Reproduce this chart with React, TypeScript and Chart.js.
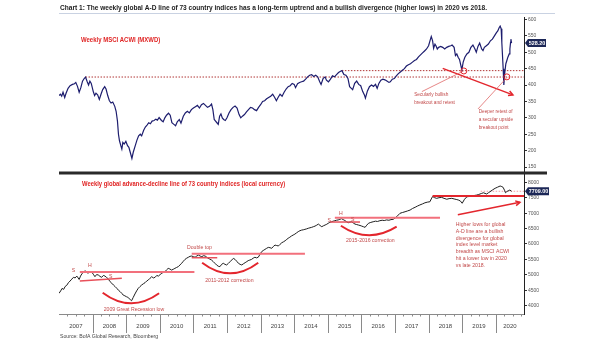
import React, { useEffect, useRef } from 'react';
import { Chart, registerables } from 'chart.js';

Chart.register(...registerables);

// ---------- data ----------
const acwiDates = [
  2007.0, 2007.04, 2007.08, 2007.12, 2007.17, 2007.21, 2007.27, 2007.33, 2007.4, 2007.46, 2007.5, 2007.55, 2007.6, 2007.65, 2007.7, 2007.75, 2007.79, 2007.84, 2007.88, 2007.92, 2007.96,
  2008.02, 2008.06, 2008.1, 2008.15, 2008.2, 2008.25, 2008.3, 2008.36, 2008.4, 2008.45, 2008.5, 2008.55, 2008.6, 2008.66, 2008.7, 2008.74, 2008.77, 2008.8, 2008.84, 2008.87, 2008.9, 2008.94, 2008.99,
  2009.04, 2009.08, 2009.12, 2009.17, 2009.21, 2009.27, 2009.32, 2009.37, 2009.42, 2009.46, 2009.52, 2009.57, 2009.62, 2009.67, 2009.72, 2009.77, 2009.83, 2009.88, 2009.93, 2009.98,
  2010.05, 2010.1, 2010.15, 2010.2, 2010.26, 2010.31, 2010.36, 2010.42, 2010.47, 2010.52, 2010.58, 2010.63, 2010.7, 2010.76, 2010.82, 2010.88, 2010.94,
  2011.0, 2011.06, 2011.12, 2011.18, 2011.24, 2011.3, 2011.36, 2011.42, 2011.48, 2011.54, 2011.58, 2011.62, 2011.66, 2011.7, 2011.74, 2011.78, 2011.82, 2011.86, 2011.9, 2011.95,
  2012.0, 2012.06, 2012.12, 2012.18, 2012.24, 2012.3, 2012.36, 2012.41, 2012.46, 2012.52, 2012.58, 2012.64, 2012.7, 2012.76, 2012.82, 2012.88, 2012.94,
  2013.0, 2013.06, 2013.12, 2013.18, 2013.24, 2013.3, 2013.36, 2013.42, 2013.47, 2013.52, 2013.58, 2013.64, 2013.7, 2013.76, 2013.82, 2013.88, 2013.94,
  2014.0, 2014.04, 2014.1, 2014.16, 2014.22, 2014.28, 2014.34, 2014.4, 2014.46, 2014.52, 2014.58, 2014.64, 2014.7, 2014.76, 2014.8, 2014.86, 2014.92, 2014.96,
  2015.02, 2015.08, 2015.14, 2015.2, 2015.26, 2015.32, 2015.38, 2015.42, 2015.48, 2015.54, 2015.6, 2015.65, 2015.7, 2015.74, 2015.8, 2015.86, 2015.92, 2015.98,
  2016.04, 2016.09, 2016.12, 2016.18, 2016.24, 2016.3, 2016.36, 2016.42, 2016.47, 2016.52, 2016.58, 2016.64, 2016.7, 2016.76, 2016.82, 2016.86, 2016.92, 2016.98,
  2017.04, 2017.1, 2017.16, 2017.22, 2017.28, 2017.34, 2017.4, 2017.46, 2017.52, 2017.58, 2017.64, 2017.7, 2017.76, 2017.82, 2017.88, 2017.94,
  2018.0, 2018.05, 2018.08, 2018.12, 2018.15, 2018.19, 2018.22, 2018.26, 2018.3, 2018.36, 2018.42, 2018.48, 2018.54, 2018.6, 2018.66, 2018.7, 2018.76, 2018.8, 2018.84, 2018.88, 2018.92, 2018.96, 2018.99,
  2019.03, 2019.08, 2019.14, 2019.2, 2019.26, 2019.32, 2019.38, 2019.42, 2019.47, 2019.52, 2019.58, 2019.62, 2019.66, 2019.72, 2019.78, 2019.84, 2019.9, 2019.96,
  2020.02, 2020.06, 2020.1, 2020.13, 2020.16, 2020.18, 2020.2, 2020.22, 2020.24, 2020.27, 2020.3, 2020.33, 2020.36, 2020.4, 2020.42, 2020.44, 2020.45, 2020.47,
];
const acwiValues = [
  368, 372, 366, 378, 362, 375, 390, 398, 402, 404, 408, 396, 378, 392, 412, 420, 424.5, 410, 400, 412, 405,
  380, 368, 375, 370, 356, 372, 386, 395, 388, 368, 352, 345, 348, 335, 320, 290, 250, 230, 215, 205, 225, 220, 228,
  215, 210, 195, 176, 195, 215, 232, 245, 250, 245, 262, 272, 278, 285, 282, 290, 292, 296, 293, 301,
  292, 288, 300, 308, 314, 308, 285, 280, 276, 288, 295, 284, 305, 315, 320, 315, 325,
  330, 334, 338, 330, 340, 344, 338, 332, 335, 342, 325, 295, 290, 285, 280, 305, 312, 300, 295, 292,
  300, 315, 325, 332, 336, 330, 310, 300, 305, 310, 318, 325, 332, 330, 325, 322, 332,
  340, 350, 352, 358, 362, 366, 372, 362, 352, 362, 372, 366, 378, 388, 395, 398, 405,
  402, 392, 404, 408, 410, 412, 418, 425, 430, 432, 426, 430, 425, 410, 402, 420, 425, 415,
  410, 418, 428, 425, 432, 438, 442, 444, 432, 430, 420, 395, 390, 386, 405, 412, 402, 398,
  380, 370, 360, 382, 395, 400, 396, 402, 390, 405, 415, 418, 416, 412, 408, 410, 418, 420,
  428, 435, 440, 445, 450, 458, 462, 465, 470, 475, 478, 486, 492, 498, 504, 510,
  520, 538, 548, 535, 512, 525, 520, 510, 515, 518, 515, 510, 515, 518, 520, 522, 515, 490, 495, 485, 478, 460, 446,
  470, 485, 495, 500, 515, 522, 510, 500, 518, 528, 510, 505, 515, 520, 525, 535, 540, 550,
  560, 565, 575, 580, 572, 530, 490, 450, 400, 440, 465, 475, 485, 495, 510, 530, 540, 528.2,
];

const adDates = [
  2007.0, 2007.05, 2007.09, 2007.14, 2007.18, 2007.23, 2007.28, 2007.33, 2007.38, 2007.43, 2007.48, 2007.53, 2007.57, 2007.6, 2007.64, 2007.68, 2007.72, 2007.77, 2007.82, 2007.87, 2007.92, 2007.97,
  2008.02, 2008.07, 2008.12, 2008.17, 2008.22, 2008.27, 2008.32, 2008.37, 2008.41, 2008.45, 2008.52, 2008.57, 2008.62, 2008.67, 2008.72, 2008.77, 2008.82, 2008.87, 2008.91, 2008.96,
  2009.01, 2009.05, 2009.08, 2009.12, 2009.16, 2009.21, 2009.26, 2009.31, 2009.36, 2009.41, 2009.46, 2009.51, 2009.56, 2009.61, 2009.66, 2009.71, 2009.76, 2009.81, 2009.86, 2009.91, 2009.96,
  2010.01, 2010.06, 2010.1, 2010.15, 2010.2, 2010.25, 2010.3, 2010.35, 2010.4, 2010.45, 2010.5, 2010.55, 2010.6, 2010.65, 2010.7, 2010.75, 2010.8, 2010.85, 2010.9, 2010.95,
  2011.0, 2011.05, 2011.1, 2011.15, 2011.2, 2011.25, 2011.3, 2011.35, 2011.4, 2011.44, 2011.49, 2011.54, 2011.59, 2011.64, 2011.69, 2011.74, 2011.79, 2011.84, 2011.89, 2011.94, 2011.99,
  2012.04, 2012.09, 2012.14, 2012.19, 2012.24, 2012.29, 2012.34, 2012.39, 2012.44, 2012.49, 2012.54, 2012.59, 2012.63, 2012.68, 2012.73, 2012.78, 2012.83, 2012.88, 2012.93, 2012.98,
  2013.03, 2013.08, 2013.13, 2013.18, 2013.23, 2013.28, 2013.33, 2013.38, 2013.43, 2013.48, 2013.53, 2013.58, 2013.63, 2013.68, 2013.73, 2013.78, 2013.82, 2013.87, 2013.92, 2013.97,
  2014.02, 2014.07, 2014.12, 2014.17, 2014.22, 2014.27, 2014.32, 2014.37, 2014.42, 2014.47, 2014.52, 2014.57, 2014.62, 2014.67, 2014.72, 2014.77, 2014.82, 2014.87, 2014.92, 2014.97,
  2015.01, 2015.06, 2015.11, 2015.16, 2015.21, 2015.26, 2015.31, 2015.36, 2015.41, 2015.46, 2015.51, 2015.56, 2015.61, 2015.66, 2015.71, 2015.76, 2015.81, 2015.86, 2015.91, 2015.96,
  2016.01, 2016.06, 2016.11, 2016.16, 2016.21, 2016.28, 2016.35, 2016.42, 2016.48, 2016.55, 2016.62, 2016.68, 2016.75, 2016.82, 2016.88, 2016.95,
  2017.0, 2017.05, 2017.1, 2017.15, 2017.22, 2017.3, 2017.37, 2017.45, 2017.52, 2017.6, 2017.67, 2017.74, 2017.82, 2017.89, 2017.96,
  2018.04, 2018.08, 2018.12, 2018.18, 2018.24, 2018.31, 2018.39, 2018.46, 2018.54, 2018.61, 2018.69, 2018.76, 2018.84, 2018.9, 2018.95,
  2019.0, 2019.07, 2019.14, 2019.21, 2019.28, 2019.35, 2019.43, 2019.48, 2019.53, 2019.58, 2019.63, 2019.68, 2019.73, 2019.78, 2019.83, 2019.9, 2019.98,
  2020.05, 2020.13, 2020.18, 2020.22, 2020.26, 2020.29, 2020.33, 2020.37, 2020.42, 2020.47,
];
const adValues = [
  4400, 4480, 4560, 4530, 4620, 4660, 4745, 4800, 4860, 4920, 4900, 4960, 4900, 4850, 4960, 5030, 5080, 5135, 5090, 5050, 5110, 5100,
  5020, 4940, 5010, 4995, 4950, 4920, 4980, 4960, 4920, 4890, 4780, 4730, 4670, 4620, 4565, 4500, 4455, 4400, 4345, 4320,
  4290, 4270, 4240, 4200, 4160, 4270, 4380, 4480, 4565, 4620, 4670, 4710, 4745, 4800, 4835, 4890, 4940, 4900, 4920, 4980, 4960,
  5010, 5050, 5080, 5100, 5160, 5210, 5190, 5155, 5180, 5210, 5240, 5265, 5320, 5375, 5440, 5500, 5540, 5570, 5600, 5610,
  5590, 5570, 5610, 5640, 5610, 5590, 5620, 5610, 5570, 5535, 5510, 5480, 5430, 5375, 5320, 5280, 5265, 5340, 5375, 5340, 5320,
  5370, 5425, 5480, 5535, 5500, 5440, 5375, 5340, 5320, 5360, 5395, 5430, 5460, 5480, 5500, 5540, 5570, 5550, 5570, 5660,
  5750, 5790, 5825, 5860, 5890, 5880, 5860, 5920, 5965, 5950, 5935, 5990, 6040, 6070, 6105, 6150, 6185, 6220, 6260, 6290,
  6320, 6360, 6400, 6430, 6450, 6460, 6475, 6490, 6510, 6525, 6540, 6560, 6580, 6610, 6645, 6600, 6560, 6590, 6615, 6640,
  6670, 6700, 6720, 6740, 6755, 6770, 6780, 6800, 6820, 6790, 6760, 6720, 6690, 6710, 6720, 6680, 6645, 6630, 6615, 6600,
  6580, 6560, 6540, 6610, 6670, 6700, 6720, 6740, 6730, 6755, 6770, 6760, 6780, 6770, 6790, 6800,
  6840, 6885, 6940, 6995, 7020, 7045, 7070, 7100, 7150, 7190, 7230, 7265, 7300, 7335, 7355,
  7370, 7460, 7540, 7500, 7480, 7500, 7510, 7480, 7450, 7470, 7480, 7460, 7440, 7420, 7390,
  7320, 7450, 7530, 7540, 7555, 7570, 7585, 7600, 7620, 7640, 7660, 7640, 7620, 7660, 7695, 7750, 7805,
  7840, 7880, 7860, 7835, 7740, 7660, 7700, 7725, 7750, 7709,
];

const yearLabels = ['2007', '2008', '2009', '2010', '2011', '2012', '2013', '2014', '2015', '2016', '2017', '2018', '2019', '2020'];
const acwiTicks = [150, 200, 250, 300, 350, 400, 450, 500, 550, 600];
const adTicks = [4000, 4500, 5000, 5500, 6000, 6500, 7000, 7500, 8000];
const acwiLast = '528.20';
const adLast = '7709.00';

const TITLE = 'Chart 1: The weekly global A-D line of 73 country indices has a long-term uptrend and a bullish divergence (higher lows) in 2020 vs 2018.';
const SOURCE = 'Source: BofA Global Research, Bloomberg';

const FONT = "'Liberation Sans Narrow','Liberation Sans',Arial,sans-serif";
const RED = '#e3262d';
const PINK = '#f2707c';
const NOTE = '#c24a4a';
const X_MIN = 2007;
const X_MAX = 2020.84;
const SQUEEZE = 0.86;

function txt(ctx: CanvasRenderingContext2D, s: string, x: number, y: number, align: CanvasTextAlign = 'left', sx: number = SQUEEZE) {
  ctx.save();
  ctx.translate(x, y);
  ctx.scale(sx, 1);
  ctx.textAlign = align;
  ctx.textBaseline = 'middle';
  ctx.fillText(s, 0, 0);
  ctx.restore();
}

function arrow(ctx: CanvasRenderingContext2D, x1: number, y1: number, x2: number, y2: number, color: string, w: number) {
  ctx.strokeStyle = color;
  ctx.lineWidth = w;
  ctx.beginPath();
  ctx.moveTo(x1, y1);
  ctx.lineTo(x2, y2);
  ctx.stroke();
  const a = Math.atan2(y2 - y1, x2 - x1);
  const L = 5;
  ctx.beginPath();
  ctx.moveTo(x2 - L * Math.cos(a - 0.5), y2 - L * Math.sin(a - 0.5));
  ctx.lineTo(x2, y2);
  ctx.lineTo(x2 - L * Math.cos(a + 0.5), y2 - L * Math.sin(a + 0.5));
  ctx.stroke();
}

function seg(ctx: CanvasRenderingContext2D, x1: number, y1: number, x2: number, y2: number, color: string, w: number) {
  ctx.strokeStyle = color;
  ctx.lineWidth = w;
  ctx.beginPath();
  ctx.moveTo(x1, y1);
  ctx.lineTo(x2, y2);
  ctx.stroke();
}

function tag(ctx: CanvasRenderingContext2D, x0: number, yc: number, text: string, w: number) {
  ctx.fillStyle = '#1c2757';
  ctx.beginPath();
  ctx.moveTo(x0, yc);
  ctx.lineTo(x0 + 3, yc - 4);
  ctx.lineTo(x0 + w, yc - 4);
  ctx.lineTo(x0 + w, yc + 4);
  ctx.lineTo(x0 + 3, yc + 4);
  ctx.closePath();
  ctx.fill();
  ctx.fillStyle = '#ffffff';
  ctx.font = `bold 6px ${FONT}`;
  txt(ctx, text, x0 + (w + 3) / 2, yc + 0.5, 'center', 0.9);
}

const overlay = {
  id: 'overlay',
  beforeDatasetsDraw(chart: any) {
    const { ctx, scales } = chart;
    const X = (t: number) => scales.x.getPixelForValue(t);
    const YT = (v: number) => scales.y.getPixelForValue(v);
    const YB = (v: number) => scales.y2.getPixelForValue(v);
    const right = chart.chartArea.right;
    ctx.save();
    ctx.setLineDash([1.5, 1.5]);
    seg(ctx, X(2007.79), YT(424.5), right, YT(424.5), '#b03535', 1);
    seg(ctx, X(2015.42), YT(444), right, YT(444), '#b03535', 1);
    seg(ctx, X(2019.55), YB(7709), right, YB(7709), '#f09aa2', 1);
    ctx.restore();
  },
  afterDatasetsDraw(chart: any) {
    const { ctx, scales, chartArea } = chart;
    const X = (t: number) => scales.x.getPixelForValue(t);
    const YT = (v: number) => scales.y.getPixelForValue(v);
    const YB = (v: number) => scales.y2.getPixelForValue(v);
    const { left, right, bottom } = chartArea;
    const mid = scales.y.bottom;
    ctx.save();

    // title + rule
    ctx.fillStyle = '#1a1a1a';
    ctx.font = `bold 8px ${FONT}`;
    const tw = ctx.measureText(TITLE).width;
    txt(ctx, TITLE, left + 1, 7.5, 'left', 427 / tw);
    seg(ctx, left, 13.5, 555, 13.5, '#c9d2e2', 1);

    // panel separator
    seg(ctx, left, mid, 547, mid, '#2a2a2a', 3);

    // panel titles
    ctx.fillStyle = '#e02525';
    ctx.font = `bold 6.5px ${FONT}`;
    txt(ctx, 'Weekly MSCI ACWI (MXWD)', left + 22, 40, 'left', 0.92);
    txt(ctx, 'Weekly global advance-decline line of 73 country indices (local currency)', left + 23, 184.5, 'left', 0.9);

    // ---- top panel annotations ----
    arrow(ctx, X(2018.42), YT(451), X(2020.51), YT(370), RED, 1.5);
    seg(ctx, X(2017.8), YT(380), X(2019.04), YT(443), '#e06868', 0.8);
    seg(ctx, X(2019.47), YT(327), X(2020.34), YT(424), '#e06868', 0.8);
    ctx.strokeStyle = RED;
    ctx.lineWidth = 1;
    ctx.beginPath();
    ctx.arc(X(2019.05), YT(443), 3, 0, Math.PI * 2);
    ctx.stroke();
    ctx.beginPath();
    ctx.arc(X(2020.33), YT(425), 3, 0, Math.PI * 2);
    ctx.stroke();

    ctx.fillStyle = NOTE;
    ctx.font = `5.5px ${FONT}`;
    txt(ctx, 'Secularly bullish', X(2017.57), YT(371));
    txt(ctx, 'breakout and retest', X(2017.57), YT(348));
    txt(ctx, 'Deeper retest of', X(2019.49), YT(319));
    txt(ctx, 'a secular upside', X(2019.49), YT(294));
    txt(ctx, 'breakout point', X(2019.49), YT(272));

    // ---- bottom panel annotations ----
    seg(ctx, X(2007.62), YB(5092), X(2011.03), YB(5092), PINK, 2);
    seg(ctx, X(2007.62), YB(4800), X(2008.87), YB(4888), '#e8505a', 1.5);
    seg(ctx, X(2010.95), YB(5680), X(2014.32), YB(5680), PINK, 2);
    seg(ctx, X(2010.95), YB(5555), X(2011.71), YB(5555), '#e8505a', 1.5);
    seg(ctx, X(2015.21), YB(6851), X(2018.34), YB(6851), PINK, 2);
    seg(ctx, X(2015.07), YB(6712), X(2015.96), YB(6712), '#e8505a', 1.5);
    seg(ctx, X(2018.12), YB(7554), right, YB(7554), RED, 2);

    const arc = (t0: number, v0: number, tc: number, vc: number, t1: number, v1: number) => {
      ctx.strokeStyle = RED;
      ctx.lineWidth = 2;
      ctx.beginPath();
      ctx.moveTo(X(t0), YB(v0));
      ctx.quadraticCurveTo(X(tc), YB(vc), X(t1), YB(v1));
      ctx.stroke();
    };
    arc(2008.3, 4421, 2009.14, 3744, 2009.98, 4402);
    arc(2011.26, 5393, 2012.09, 4706, 2012.93, 5393);
    arc(2015.39, 6592, 2016.21, 5989, 2017.05, 6560);

    arrow(ctx, X(2018.87), YB(6948), X(2020.72), YB(7350), RED, 1.5);

    ctx.fillStyle = NOTE;
    ctx.font = `6px ${FONT}`;
    txt(ctx, 'S', X(2007.43), YB(5134), 'center');
    txt(ctx, 'H', X(2007.92), YB(5296), 'center');
    txt(ctx, 'S', X(2008.54), YB(4962), 'center');
    txt(ctx, 'S', X(2015.04), YB(6777), 'center');
    txt(ctx, 'H', X(2015.39), YB(6981), 'center');
    txt(ctx, 'S', X(2015.74), YB(6809), 'center');
    txt(ctx, '2009 Great Recession low', X(2009.23), YB(3893), 'center');
    txt(ctx, 'Double top', X(2010.81), YB(5892));
    txt(ctx, '2011-2012 correction', X(2011.35), YB(4810));
    txt(ctx, '2015-2016 correction', X(2015.54), YB(6106));

    const note = [
      'Higher lows for global',
      'A-D line are a bullish',
      'divergence for global',
      'index level market',
      'breadth as MSCI ACWI',
      'hit a lower low in 2020',
      'vs late 2018.',
    ];
    const y0 = YB(6637);
    note.forEach((s, i) => txt(ctx, s, X(2018.81), y0 + i * 6.8));

    // ---- x axis decorations ----
    ctx.strokeStyle = '#8a8a8a';
    ctx.lineWidth = 1;
    for (let q = 1; q < (X_MAX - X_MIN) * 4; q++) {
      const t = X_MIN + q * 0.25;
      const xp = Math.round(X(t)) + 0.5;
      ctx.beginPath();
      if (q % 4 === 0) {
        ctx.moveTo(xp, bottom);
        ctx.lineTo(xp, bottom + 19);
      } else {
        ctx.moveTo(xp, bottom);
        ctx.lineTo(xp, bottom + 2.5);
      }
      ctx.stroke();
    }

    // source
    ctx.fillStyle = '#444';
    ctx.font = `6px ${FONT}`;
    txt(ctx, SOURCE, left + 1, 336);

    // value tags
    const acLastV = acwiValues[acwiValues.length - 1];
    const adLastV = adValues[adValues.length - 1];
    tag(ctx, right + 1, YT(acLastV), acwiLast, 21);
    tag(ctx, right + 1, YB(adLastV), adLast, 24);

    ctx.restore();
  },
};

export default function App() {
  const ref = useRef<HTMLCanvasElement | null>(null);
  useEffect(() => {
    if (!ref.current) return;
    const chart = new Chart(ref.current, {
      type: 'line',
      data: {
        datasets: [
          {
            label: 'MSCI ACWI',
            data: acwiDates.map((t, i) => ({ x: t, y: acwiValues[i] })),
            yAxisID: 'y',
            borderColor: '#1d1d6e',
            borderWidth: 1.2,
            pointRadius: 0,
            tension: 0,
          },
          {
            label: 'A-D line',
            data: adDates.map((t, i) => ({ x: t, y: adValues[i] })),
            yAxisID: 'y2',
            borderColor: '#1e1e1e',
            borderWidth: 1,
            pointRadius: 0,
            tension: 0,
          },
        ],
      },
      options: {
        animation: false,
        responsive: false,
        layout: { padding: { top: 17, left: 59, right: 0, bottom: 0 } },
        plugins: { legend: { display: false }, tooltip: { enabled: false }, title: { display: false } },
        scales: {
          x: {
            type: 'linear',
            min: X_MIN,
            max: X_MAX,
            afterBuildTicks: (s: any) => {
              s.ticks = yearLabels.map((_, i) => {
                const a = X_MIN + i;
                const b = Math.min(a + 1, X_MAX);
                return { value: (a + b) / 2 };
              });
            },
            afterFit: (s: any) => {
              s.height = 27;
            },
            ticks: {
              autoSkip: false,
              maxRotation: 0,
              padding: 9,
              color: '#444',
              font: { size: 6, family: FONT },
              callback: (_v: any, i: number) => yearLabels[i],
            },
            grid: { display: false, drawTicks: false },
            border: { display: true, color: '#8a8a8a' },
          },
          y: {
            type: 'linear',
            position: 'right',
            stack: 'panels',
            stackWeight: 156,
            min: 131.7,
            max: 607.6,
            afterBuildTicks: (s: any) => {
              s.ticks = acwiTicks.map((v) => ({ value: v }));
            },
            afterFit: (s: any) => {
              s.width = 81;
            },
            ticks: {
              autoSkip: false,
              padding: 1,
              color: '#555',
              font: { size: 5, family: FONT },
              callback: (v: any) => String(v),
            },
            grid: { drawOnChartArea: false, drawTicks: true, tickLength: 3, tickColor: '#333' },
            border: { display: true, color: '#222', width: 1 },
          },
          y2: {
            type: 'linear',
            position: 'right',
            stack: 'panels',
            stackWeight: 141,
            min: 3731,
            max: 8301,
            afterBuildTicks: (s: any) => {
              s.ticks = adTicks.map((v) => ({ value: v }));
            },
            afterFit: (s: any) => {
              s.width = 81;
            },
            ticks: {
              autoSkip: false,
              padding: 1,
              color: '#555',
              font: { size: 5, family: FONT },
              callback: (v: any) => String(v),
            },
            grid: { drawOnChartArea: false, drawTicks: true, tickLength: 3, tickColor: '#333' },
            border: { display: true, color: '#222', width: 1 },
          },
        },
      },
      plugins: [overlay],
    } as any);
    return () => chart.destroy();
  }, []);

  return (
    <div style={{ position: 'fixed', left: 0, top: 0, width: 605, height: 341, background: '#fff' }}>
      <canvas ref={ref} width={605} height={341} style={{ display: 'block' }} />
    </div>
  );
}
